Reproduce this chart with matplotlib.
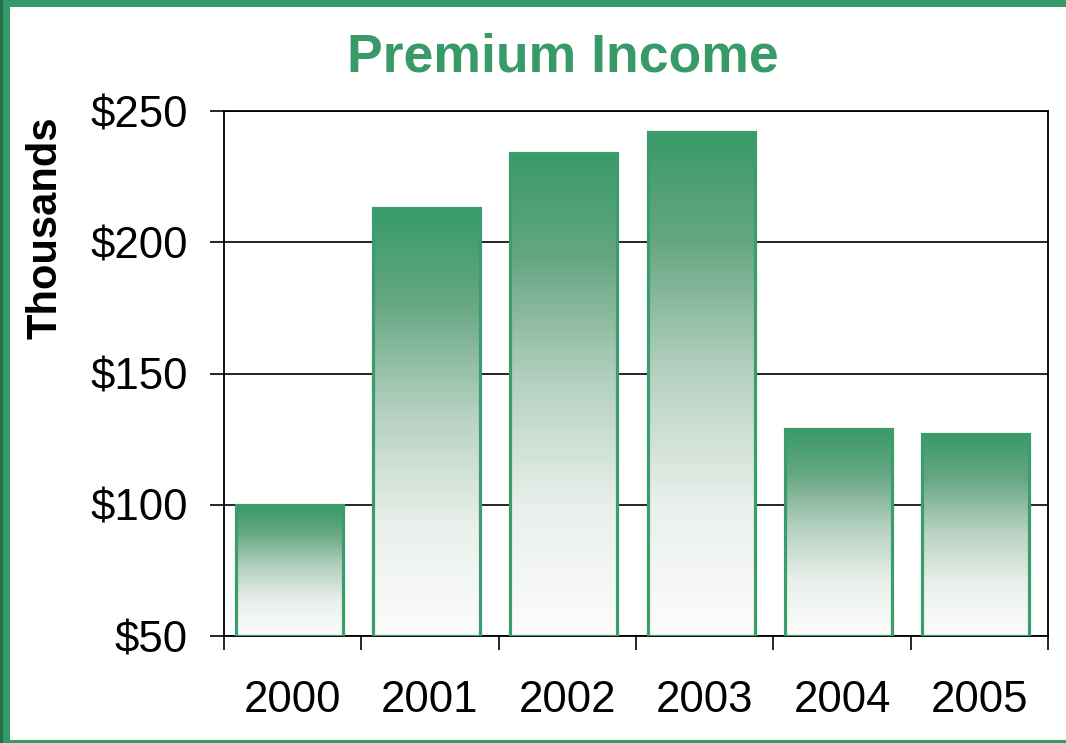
import numpy as np
import matplotlib
matplotlib.use("Agg")
import matplotlib.pyplot as plt
from matplotlib.patches import Rectangle
from matplotlib.colors import LinearSegmentedColormap

plt.rcParams['font.family'] = ['Liberation Sans', 'DejaVu Sans']

# Data
years = ["2000", "2001", "2002", "2003", "2004", "2005"]
income = [100, 213, 234, 242, 129, 127]  # thousands of dollars
yticks = [50, 100, 150, 200, 250]
ytick_labels = ["$50", "$100", "$150", "$200", "$250"]
title = "Premium Income"
ylabel = "Thousands"

GREEN = "#389a69"
EDGE = "#3c9d6c"

fig = plt.figure(figsize=(10.66, 7.43), dpi=100)
ax = fig.add_axes([0.2101, 0.1440, 0.7730, 0.7066])

ymin, ymax = 50, 250

cmap = LinearSegmentedColormap.from_list(
    "g", [(0.0, "#fcfcfc"), (0.26, "#eaf0ec"), (0.52, "#b5d1c1"),
          (0.65, "#8fbca2"), (0.78, "#66a783"), (1.0, "#389968")])
grad = np.linspace(0, 1, 256).reshape(-1, 1)

x = np.arange(len(years))
heights = np.array(income) - ymin
bars = ax.bar(x - 0.025, heights, bottom=ymin, width=0.78, facecolor="none",
              edgecolor=EDGE, linewidth=2.3, zorder=3)
for b in bars:
    x0, y0 = b.get_x(), b.get_y()
    w, h = b.get_width(), b.get_height()
    im = ax.imshow(grad, cmap=cmap, origin="lower", aspect="auto",
                   extent=[x0, x0 + w, y0, y0 + h], zorder=2.5,
                   interpolation="bilinear")
    im.set_clip_path(b)
ax.set_xlim(-0.5, len(years) - 0.5)
ax.set_ylim(ymin, ymax)

# grid
ax.set_yticks(yticks)
ax.set_yticklabels(ytick_labels)
ax.yaxis.grid(True, color="black", linewidth=1.2, zorder=1)
ax.set_axisbelow(True)

ax.set_xticks(x)
ax.set_xticklabels(years)
ax.set_xticks(np.arange(-0.5, len(years)), minor=True)
ax.tick_params(axis="x", which="major", length=0, pad=32, labelsize=31.5)
ax.tick_params(axis="x", which="minor", length=10, width=1.2, direction="out")
ax.tick_params(axis="y", which="major", length=10, width=1.2, direction="out",
               pad=16, labelsize=31.5)

for s in ax.spines.values():
    s.set_linewidth(1.3)
    s.set_color("black")

fig.text(0.528, 0.9044, title, ha="center", va="baseline", fontsize=38.5,
         fontweight="bold", color=GREEN)
fig.text(0.043, 0.693, ylabel, ha="center", va="center", rotation=90,
         fontsize=30, fontweight="bold", color="black")

# figure border
W, H = 1066, 743
fig.patches.append(Rectangle((0, 1 - 7 / H), 1, 7 / H, transform=fig.transFigure,
                             facecolor="#349a68", edgecolor="none", zorder=10))
fig.patches.append(Rectangle((0, 0), 10 / W, 1, transform=fig.transFigure,
                             facecolor="#349a68", edgecolor="none", zorder=10))
fig.patches.append(Rectangle((0, 0), 3 / W, 1, transform=fig.transFigure,
                             facecolor="#23704a", edgecolor="none", zorder=11))
fig.patches.append(Rectangle((0, 0), 1, 3 / H, transform=fig.transFigure,
                             facecolor="#349a68", edgecolor="none", zorder=10))

fig.savefig("out.png", dpi=100)
